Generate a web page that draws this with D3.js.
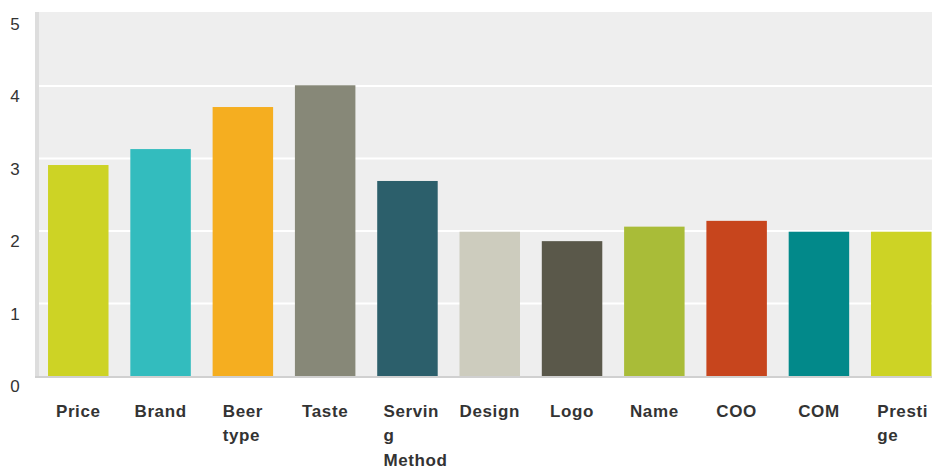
<!DOCTYPE html>
<html>
<head>
<meta charset="utf-8">
<script src="https://cdn.jsdelivr.net/npm/d3@7/dist/d3.min.js"></script>
<style>
  html, body { margin: 0; padding: 0; background: #ffffff; }
  svg { display: block; font-family: "Liberation Sans", Arial, sans-serif; }
</style>
</head>
<body>
<svg id="chart" width="932" height="468"></svg>
<script>
// Mean importance rating per beer attribute
const categories = ["Price", "Brand", "Beer type", "Taste", "Serving Method", "Design", "Logo", "Name", "COO", "COM", "Prestige"];
const labelLines = [["Price"], ["Brand"], ["Beer", "type"], ["Taste"], ["Servin", "g", "Method"], ["Design"], ["Logo"], ["Name"], ["COO"], ["COM"], ["Presti", "ge"]];
const values = [2.91, 3.13, 3.71, 4.01, 2.69, 1.99, 1.86, 2.06, 2.14, 1.99, 1.99];
const colors = ["#cdd325", "#33bcbe", "#f5ae20", "#878878", "#2c5f6b", "#cdccbe", "#5a584a", "#a9bc38", "#c7451d", "#02898a", "#cdd325"];
const yTicks = [0, 1, 2, 3, 4, 5];

const svg = d3.select("#chart");

const plot = { left: 35, right: 932, top: 12, bottom: 376 };

const y = d3.scaleLinear().domain([0, 5]).range([376, 13.5]);
const x = d3.scaleBand()
  .domain(categories)
  .range([37, 942.5])
  .paddingInner(0.265)
  .paddingOuter(0.134);

// plot background
svg.append("rect")
  .attr("x", plot.left).attr("y", plot.top)
  .attr("width", plot.right - plot.left).attr("height", plot.bottom - plot.top)
  .attr("fill", "#eeeeee");

// left edge strip
svg.append("rect")
  .attr("x", plot.left).attr("y", plot.top)
  .attr("width", 4).attr("height", plot.bottom - plot.top)
  .attr("fill", "#dddddd");

// horizontal gridlines
svg.append("g")
  .selectAll("line")
  .data(yTicks.filter(d => d > 0 && d < 5))
  .join("line")
  .attr("x1", plot.left + 4).attr("x2", plot.right)
  .attr("y1", d => y(d)).attr("y2", d => y(d))
  .attr("stroke", "#ffffff").attr("stroke-width", 2);

// bars
svg.append("g")
  .selectAll("rect")
  .data(categories)
  .join("rect")
  .attr("x", d => x(d))
  .attr("y", (d, i) => y(values[i]))
  .attr("width", x.bandwidth())
  .attr("height", (d, i) => y(0) - y(values[i]))
  .attr("fill", (d, i) => colors[i]);

// baseline
svg.append("line")
  .attr("x1", plot.left).attr("x2", plot.right)
  .attr("y1", y(0) + 1).attr("y2", y(0) + 1)
  .attr("stroke", "#d0d0d0").attr("stroke-width", 2);

// y tick labels
svg.append("g")
  .selectAll("text")
  .data(yTicks)
  .join("text")
  .attr("x", 15)
  .attr("y", d => y(d) + 16)
  .attr("text-anchor", "middle")
  .attr("font-size", 17)
  .attr("fill", "#333333")
  .text(d => d);

// category labels; wrapped labels sit in a fixed-width block centred under the bar
const wrapWidth = 48;
const lab = svg.append("g")
  .selectAll("text")
  .data(categories)
  .join("text")
  .attr("font-size", 17)
  .attr("font-weight", "bold")
  .attr("letter-spacing", 0.6)
  .attr("fill", "#333333");

lab.each(function(d, i) {
  const t = d3.select(this);
  const lines = labelLines[i];
  const cx = x(d) + x.bandwidth() / 2;
  lines.forEach((ln, j) => {
    t.append("tspan").attr("dy", j === 0 ? 0 : 24.5).text(ln);
  });
  const spans = t.selectAll("tspan").nodes();
  if (lines.length === 1) {
    t.attr("text-anchor", "middle");
    spans.forEach(s => d3.select(s).attr("x", cx));
  } else {
    const w = Math.min(spans[0].getComputedTextLength(), wrapWidth);
    const left = cx - w / 2;
    spans.forEach(s => d3.select(s).attr("x", left));
  }
  t.attr("y", 416.5);
});
</script>
</body>
</html>
